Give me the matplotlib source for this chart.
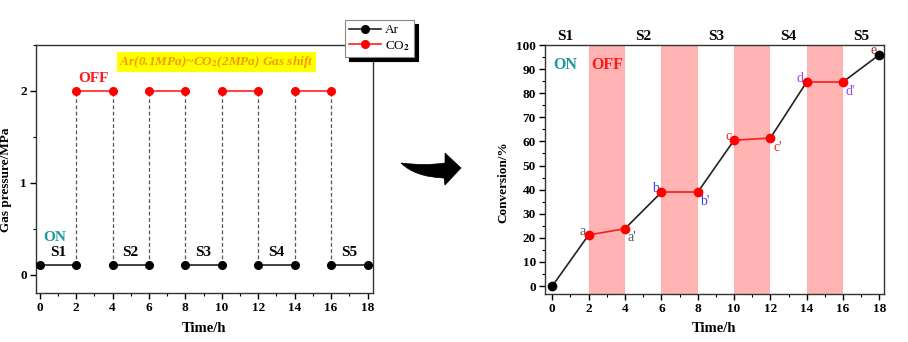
import matplotlib
matplotlib.use("Agg")
import matplotlib.pyplot as plt
from matplotlib.patches import PathPatch
from matplotlib.path import Path
from matplotlib.ticker import MultipleLocator

plt.rcParams['font.family'] = ['Liberation Serif', 'DejaVu Serif']
plt.rcParams['font.weight'] = 'bold'
plt.rcParams['mathtext.fontset'] = 'stix'

# ---- data ----
times = [0, 2, 4, 6, 8, 10, 12, 14, 16, 18]
ar_pressure = 0.1
co2_pressure = 2.0
conversion = [0, 21.2, 23.8, 38.9, 38.9, 60.5, 61.4, 84.7, 84.7, 96.0]
stage_labels = ['S1', 'S2', 'S3', 'S4', 'S5']
stage_pos_left = [1, 5, 9, 13, 17]
stage_pos_right = [0.7, 5, 9, 13, 17]
point_labels = ['', 'a', "a'", 'b', "b'", 'c', "c'", 'd', "d'", 'e']
point_colors = ['k', '#555555', '#555555', '#3b3bff', '#3b3bff', '#e52b2b', '#e52b2b',
                '#a040ff', '#a040ff', '#a03030']
xticks = [0, 2, 4, 6, 8, 10, 12, 14, 16, 18]

W, H = 908, 342
fig = plt.figure(figsize=(W / 100, H / 100), dpi=100)

def style_ax(ax):
    for s in ax.spines.values():
        s.set_linewidth(1.0)
        s.set_color('#333333')
    ax.tick_params(direction='out', which='major', length=4, width=1, labelsize=9.5, pad=2.5)
    ax.tick_params(direction='out', which='minor', length=2, width=0.8)
    for lab in ax.get_xticklabels() + ax.get_yticklabels():
        lab.set_fontweight('bold')

# ---- left panel ----
axL = fig.add_axes([36/W, 1-293/H, 337/W, 248/H])
axL.set_xlim(-0.2, 18.3)
axL.set_ylim(-0.2, 2.5)
on_idx = [(0, 1), (2, 3), (4, 5), (6, 7), (8, 9)]
off_idx = [(1, 2), (3, 4), (5, 6), (7, 8)]
for k, (i, j) in enumerate(on_idx):
    axL.plot([times[i], times[j]], [ar_pressure, ar_pressure], '-o', color='#222222',
             mfc='black', mec='black', ms=5.5, lw=1.2, label='Ar' if k == 0 else None, zorder=3)
for k, (i, j) in enumerate(off_idx):
    axL.plot([times[i], times[j]], [co2_pressure, co2_pressure], '-o', color='#ff2020',
             mfc='red', mec='red', ms=5.5, lw=1.2, label='CO$_2$' if k == 0 else None, zorder=3)
for t in times[1:-1]:
    axL.plot([t, t], [ar_pressure, co2_pressure], ls=(0, (3, 2)), color='#555555', lw=0.9, zorder=1)
for s, x in zip(stage_labels, stage_pos_left):
    axL.text(x, 0.17, s, ha='center', va='bottom', fontsize=11, fontweight='bold', color='black')
axL.text(0.85, 0.4, 'ON', ha='center', va='center', fontsize=11, fontweight='bold', color='#1f9a9a')
axL.text(2.97, 2.13, 'OFF', ha='center', va='center', fontsize=11, fontweight='bold', color='#ff1a1a')
axL.text(9.7, 2.31, 'Ar(0.1MPa)~CO$_2$(2MPa) Gas shift', ha='center', va='center', fontsize=9.5,
         fontweight='bold', style='italic', color='#f59a00',
         bbox=dict(boxstyle='square,pad=0.15', fc='#ffff00', ec='none'))
axL.set_xticks(xticks)
axL.xaxis.set_minor_locator(MultipleLocator(1))
axL.set_yticks([0, 1, 2])
axL.yaxis.set_minor_locator(MultipleLocator(0.5))
axL.set_xlabel('Time/h', fontsize=10.5, fontweight='bold')
axL.set_ylabel('Gas pressure/MPa', fontsize=9.5, fontweight='bold')
axL.xaxis.set_label_coords(0.5, -0.118)
axL.yaxis.set_label_coords(-0.072, 0.456)
style_ax(axL)
leg = axL.legend(loc='upper left', bbox_to_anchor=(345/W, 1-20/H), bbox_transform=fig.transFigure,
                 fontsize=9.5, frameon=True, fancybox=False, handlelength=2.4, borderaxespad=0,
                 borderpad=0.3, labelspacing=0.2, handletextpad=0.3,
                 shadow={'color': 'black', 'ox': 3, 'oy': -3, 'alpha': 1.0})
leg.get_frame().set_edgecolor('#888888')
leg.get_frame().set_linewidth(0.8)
for t in leg.get_texts():
    t.set_fontweight('normal')

# ---- curved arrow (decoration) ----
arrow_px = [(401, 163), (425, 166), (445, 163), (445, 153), (461, 168), (445, 185),
            (444, 178), (415, 177), (401, 163), (401, 163)]
arrow_codes = [Path.MOVETO, Path.CURVE3, Path.CURVE3, Path.LINETO, Path.LINETO, Path.LINETO,
               Path.LINETO, Path.CURVE3, Path.CURVE3, Path.CLOSEPOLY]
arrow_path = Path([(x / W, 1 - y / H) for x, y in arrow_px], arrow_codes)
fig.patches.append(PathPatch(arrow_path, transform=fig.transFigure, fc='black', ec='black', lw=0.5))

# ---- right panel ----
axR = fig.add_axes([545/W, 1-294/H, 339/W, 249/H])
axR.set_xlim(-0.4, 18.25)
axR.set_ylim(-3.3, 100)
for i, j in off_idx:
    axR.axvspan(times[i], times[j], color='#ffb3b3', lw=0, zorder=0)
for i, j in on_idx:
    axR.plot([times[i], times[j]], [conversion[i], conversion[j]], '-', color='#222222', lw=1.2, zorder=2)
for i, j in off_idx:
    axR.plot([times[i], times[j]], [conversion[i], conversion[j]], '-', color='#ff1a1a', lw=1.2, zorder=3)
for k, (t, v) in enumerate(zip(times, conversion)):
    c = 'black' if k in (0, len(times) - 1) else 'red'
    axR.plot(t, v, 'o', color=c, ms=6, zorder=4)
for k, (t, v, lab, col) in enumerate(zip(times, conversion, point_labels, point_colors)):
    if not lab:
        continue
    if "'" in lab:
        axR.annotate(lab, (t, v), xytext=(2, -2), textcoords='offset points', ha='left', va='top',
                     fontsize=10, fontweight='normal', color=col)
    else:
        axR.annotate(lab, (t, v), xytext=(-2, -2), textcoords='offset points', ha='right', va='bottom',
                     fontsize=10, fontweight='normal', color=col)
for s, x in zip(stage_labels, stage_pos_right):
    axR.text(x, 101, s, ha='center', va='bottom', fontsize=11, fontweight='bold', color='black')
axR.text(0.7, 91.7, 'ON', ha='center', va='center', fontsize=11.5, fontweight='bold', color='#1f9a9a')
axR.text(3.0, 91.7, 'OFF', ha='center', va='center', fontsize=11.5, fontweight='bold', color='#ff1a1a')
axR.set_xticks(xticks)
axR.xaxis.set_minor_locator(MultipleLocator(1))
axR.set_yticks(range(0, 101, 10))
axR.yaxis.set_minor_locator(MultipleLocator(5))
axR.set_xlabel('Time/h', fontsize=10.5, fontweight='bold')
axR.set_ylabel('Conversion/%', fontsize=9.5, fontweight='bold')
axR.xaxis.set_label_coords(0.5, -0.112)
axR.yaxis.set_label_coords(-0.105, 0.448)
style_ax(axR)

fig.savefig('out.png', dpi=100)
